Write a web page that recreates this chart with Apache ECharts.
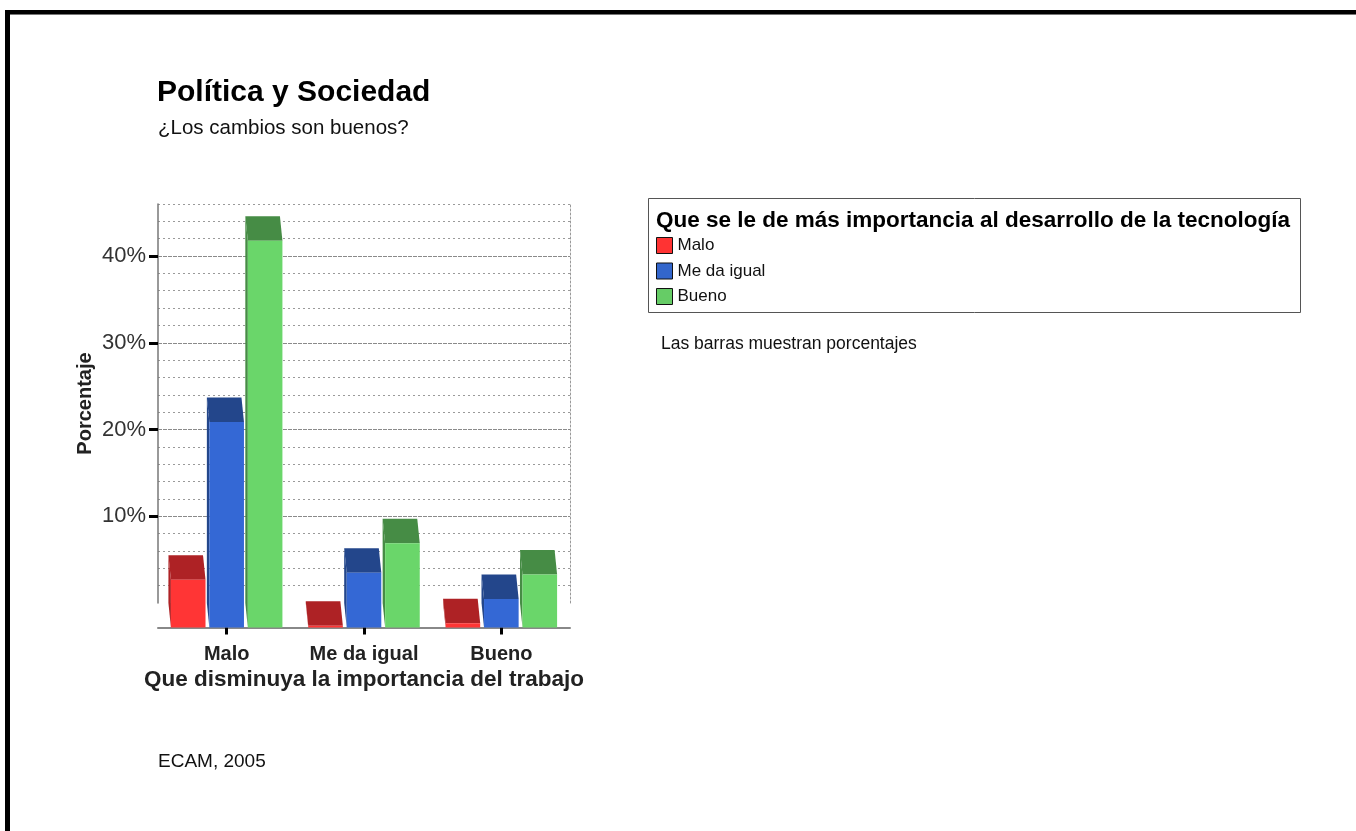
<!DOCTYPE html>
<html><head><meta charset="utf-8">
<script src="https://cdn.jsdelivr.net/npm/echarts@6/dist/echarts.min.js"></script>
<style>html,body{margin:0;padding:0;background:#fff}#c{width:1356px;height:831px}</style>
</head><body><div id="c"></div>
<script>
// ---- data ----
const categories = ['Malo', 'Me da igual', 'Bueno'];
const seriesNames = ['Malo', 'Me da igual', 'Bueno'];
const maloValues = [5.5, 0.2, 0.5];
const meDaIgualValues = [23.7, 6.3, 3.3];
const buenoValues = [44.6, 9.7, 6.1];
const yTickValues = [10, 20, 30, 40];

// ---- style ----
const FONT = 'Liberation Sans, Arial, sans-serif';
const frontColors = ['#FF3535', '#3468D5', '#6AD66A'];
const darkColors = ['#AE2225', '#23468B', '#468C45'];
const legendColors = ['#FF3333', '#3366CC', '#66CC66'];
const BAR_W = 0.252, BAR_STEP = 0.28, DEPTH_X = -2.5, DEPTH_Y = -24.5;
const YMAX = 46;

function makeRender(k) {
  return function (params, api) {
    const ci = api.value(0), v = api.value(1);
    const base = api.coord([ci, 0]);
    const top = api.coord([ci, v]);
    const band = api.size([1, 0])[0];
    const w = band * BAR_W;
    const cx = base[0] + (k - 1) * band * BAR_STEP;
    const x0 = cx - w / 2, x1 = cx + w / 2;
    const yT = top[1], yB = base[1];
    const dx = DEPTH_X, dy = DEPTH_Y;
    return { type: 'group', children: [
      { type: 'polygon', shape: { points: [[x0, yT], [x0 + dx, yT + dy], [x0 + dx, yB + dy], [x0, yB]] }, style: { fill: darkColors[k] } },
      { type: 'polygon', shape: { points: [[x0, yT], [x1, yT], [x1 + dx, yT + dy], [x0 + dx, yT + dy]] }, style: { fill: darkColors[k] } },
      { type: 'rect', shape: { x: x0, y: yT, width: w, height: yB - yT }, style: { fill: frontColors[k] } }
    ]};
  };
}

const valueSets = [maloValues, meDaIgualValues, buenoValues];
const series = seriesNames.map((name, k) => ({
  name: name,
  type: 'custom',
  xAxisIndex: 1, yAxisIndex: 3,
  itemStyle: { color: legendColors[k] },
  encode: { x: 0, y: 1 },
  data: categories.map((c, i) => [i, valueSets[k][i]]),
  renderItem: makeRender(k)
}));

// minor grid lines every 2 %; multiples of 10 are drawn dashed by the second axis
const minorColors = ['rgba(0,0,0,0)', '#9a9a9a', '#9a9a9a', '#9a9a9a', '#9a9a9a'];

const chart = echarts.init(document.getElementById('c'), null, { renderer: 'canvas' });
chart.setOption({
  animation: false,
  backgroundColor: '#fff',
  textStyle: { fontFamily: FONT },
  title: [
    { text: 'Política y Sociedad', left: 157, top: 78, padding: 0, textStyle: { fontFamily: FONT, fontSize: 30, fontWeight: 'bold', color: '#000' } },
    { text: '¿Los cambios son buenos?', left: 158, top: 118, padding: 0, textStyle: { fontFamily: FONT, fontSize: 20.5, fontWeight: 'normal', color: '#111' } },
    { text: 'Que se le de más importancia al desarrollo de la tecnología', left: 656, top: 209, padding: 0, textStyle: { fontFamily: FONT, fontSize: 22.5, fontWeight: 'bold', color: '#000' } },
    { text: 'Las barras muestran porcentajes', left: 661, top: 335, padding: 0, textStyle: { fontFamily: FONT, fontSize: 17.5, fontWeight: 'normal', color: '#111' } },
    { text: 'ECAM, 2005', left: 158, top: 752, padding: 0, textStyle: { fontFamily: FONT, fontSize: 19, fontWeight: 'normal', color: '#111' } }
  ],
  legend: {
    data: seriesNames,
    orient: 'vertical', left: 656, top: 237, padding: 0,
    itemWidth: 16, itemHeight: 16, itemGap: 8.5,
    icon: 'rect',
    itemStyle: { borderColor: '#111', borderWidth: 1 },
    textStyle: { fontFamily: FONT, fontSize: 17, color: '#111', padding: [0, 0, 0, 0] },
    selectedMode: false
  },
  graphic: [
    { type: 'rect', shape: { x: 5, y: 10, width: 1351, height: 4 }, style: { fill: '#000' } },
    { type: 'rect', shape: { x: 5, y: 14, width: 1351, height: 1 }, style: { fill: '#777' } },
    { type: 'rect', shape: { x: 5, y: 10, width: 5, height: 821 }, style: { fill: '#000' } },
    { type: 'rect', shape: { x: 648.5, y: 198.5, width: 652, height: 114 }, style: { fill: 'none', stroke: '#555', lineWidth: 1 } }
  ],
  grid: [
    { left: 158, top: 204, width: 412, height: 399 },
    { left: 158, top: 228.5, width: 412, height: 399 }
  ],
  xAxis: [
    { type: 'category', gridIndex: 0, data: categories, show: false },
    {
      type: 'category', gridIndex: 1, data: categories, offset: 2,
      axisLine: { show: true, lineStyle: { color: '#888', width: 2 } },
      axisTick: { show: true, alignWithLabel: true, length: 7, lineStyle: { color: '#000', width: 3 } },
      axisLabel: { interval: 0, fontFamily: FONT, fontSize: 20, fontWeight: 'bold', color: '#222', margin: 15 },
      name: 'Que disminuya la importancia del trabajo',
      nameLocation: 'middle', nameGap: 39,
      nameTextStyle: { fontFamily: FONT, fontSize: 22.5, fontWeight: 'bold', color: '#222' }
    }
  ],
  yAxis: [
    {
      type: 'value', gridIndex: 0, min: 0, max: YMAX, interval: 2, position: 'left',
      axisLine: { show: true, lineStyle: { color: '#777', width: 1.5 } },
      axisTick: { show: false }, axisLabel: { show: false },
      splitLine: { show: true, lineStyle: { color: minorColors, type: [2, 3], width: 1 } },
      name: 'Porcentaje', nameLocation: 'middle', nameGap: 63, nameRotate: 90,
      nameTextStyle: { fontFamily: FONT, fontSize: 20, fontWeight: 'bold', color: '#222' }
    },
    {
      type: 'value', gridIndex: 0, min: 0, max: YMAX, interval: 10, position: 'left', offset: 0,
      axisLine: { show: false },
      axisTick: { show: true, customValues: yTickValues, length: 9, lineStyle: { color: '#000', width: 3 } },
      axisLabel: { customValues: yTickValues, formatter: '{value}%', fontFamily: FONT, fontSize: 22, color: '#333', margin: 12 },
      splitLine: { show: true, lineStyle: { color: '#8a8a8a', type: [4, 1], width: 1 } }
    },
    {
      type: 'value', gridIndex: 0, min: 0, max: YMAX, position: 'right',
      axisLine: { show: true, lineStyle: { color: '#999', type: [2, 2], width: 1 } },
      axisTick: { show: false }, axisLabel: { show: false }, splitLine: { show: false }
    },
    { type: 'value', gridIndex: 1, min: 0, max: YMAX, show: false }
  ],
  series: series
});
</script></body></html>
